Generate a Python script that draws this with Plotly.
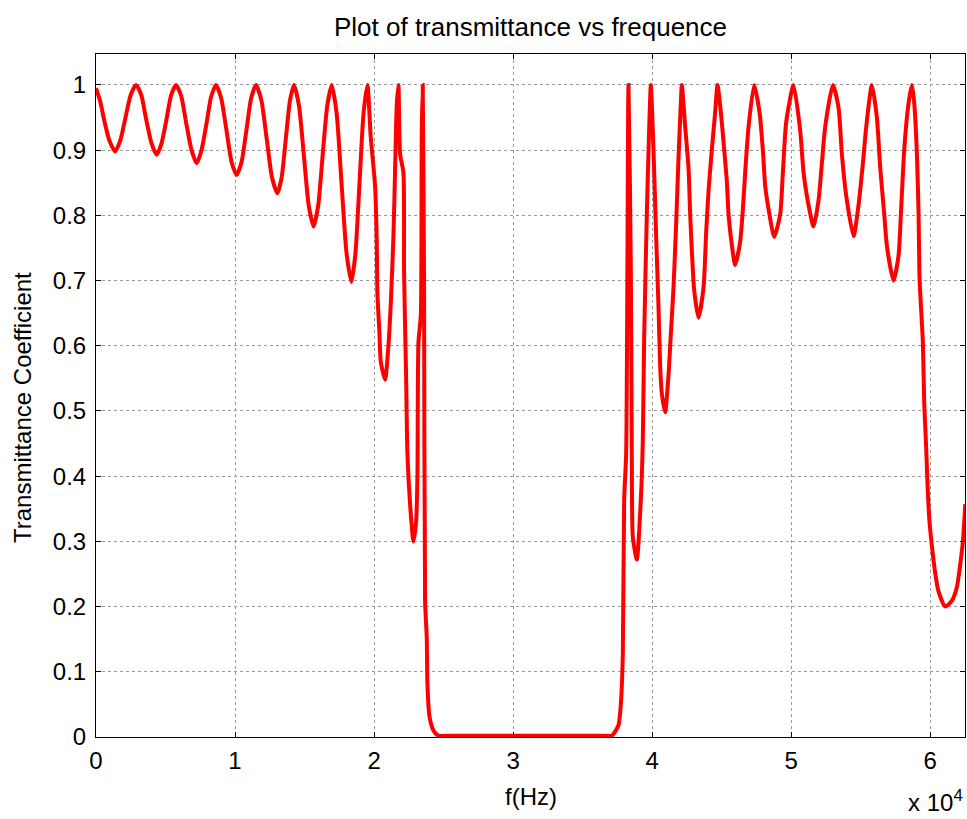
import plotly.graph_objects as go

# Frequency (Hz) and transmittance values
freq = [
    0, 300, 650, 960, 1367, 1750, 2120, 2500, 2878, 3250, 3620, 4000, 4365,
    4710, 5060, 5400, 5755, 6130, 6500, 6870, 7242, 7590, 7940, 8280, 8633,
    9000, 9380, 9750, 10120, 10470, 10820, 11160, 11511, 11900, 12280, 12660,
    13046, 13350, 13650, 13950, 14245, 14600, 14950, 15300, 15650, 15980,
    16300, 16630, 16954, 17310, 17660, 18020, 18370, 18660, 18950, 19240,
    19520, 19760, 20072, 20192, 20240, 20384, 20480, 20791, 21031, 21199,
    21390, 21511, 21631, 21750, 21871, 22110, 22158, 22302, 22397, 22590,
    22830, 23022, 23118, 23189, 23360, 23430, 23500, 23597, 23669, 23789,
    23837, 23981, 24268, 24628, 25500, 27000, 29000, 31000, 33000, 35000,
    36500, 37098, 37578, 37746, 37890, 37986,
    38130, 38297, 38465, 38537, 38609, 38897, 39185, 39329, 39424, 39616,
    39808, 39904, 40096, 40288, 40456, 40576, 40695, 40935, 41175, 41343,
    41534, 41727, 41894, 42062, 42134, 42374, 42614, 42734, 42854, 43022,
    43333, 43693, 43885, 44053, 44293, 44532, 44700, 44940, 45180, 45371,
    45491, 45659, 45971, 46331, 46523, 46691, 46931, 47338, 47722, 47962,
    48129, 48369, 48777, 49209, 49401, 49640, 50165, 50647, 50887, 51127,
    51607, 51966, 52206, 52446, 53000, 53405, 53645, 53957, 54484, 54844,
    55156, 55396, 55803, 56163, 56403, 56691, 56882, 57362, 57722, 57890,
    58129, 58441, 58681, 58849, 59041, 59161, 59233, 59472, 59568, 59712,
    59808, 59952, 60120, 60360, 60600, 61079, 61559, 61918, 62158, 62350,
    62518,
]
trans = [
    0.995, 0.975, 0.94, 0.915, 0.898, 0.915, 0.95, 0.985, 1.0, 0.985, 0.946,
    0.91, 0.893, 0.91, 0.946, 0.984, 1.0, 0.983, 0.94, 0.9, 0.88, 0.9, 0.94,
    0.982, 1.0, 0.98, 0.931, 0.882, 0.862, 0.882, 0.931, 0.98, 1.0, 0.976,
    0.917, 0.858, 0.834, 0.858, 0.917, 0.976, 1.0, 0.968, 0.892, 0.815,
    0.783, 0.815, 0.892, 0.968, 1.0, 0.956, 0.849, 0.742, 0.698, 0.742,
    0.849, 0.956, 1.0, 0.92, 0.845, 0.76, 0.68, 0.62, 0.576, 0.548, 0.60,
    0.664, 0.767, 0.87, 0.97, 1.0, 0.894, 0.866, 0.71, 0.555, 0.435, 0.357,
    0.30, 0.33, 0.40, 0.604, 0.647, 0.93, 1.0, 0.68, 0.208, 0.152, 0.081,
    0.032, 0.01, 0.002, 0.002, 0.002, 0.002, 0.002, 0.002, 0.002,
    0.002, 0.002, 0.018, 0.05, 0.127, 0.364, 0.435, 1.0,
    0.717, 0.435, 0.307, 0.272, 0.364, 0.456, 0.611, 0.802, 0.95, 1.0, 0.90,
    0.767, 0.66, 0.569, 0.527, 0.498, 0.555, 0.618, 0.689, 0.788, 0.887,
    0.972, 1.0, 0.936, 0.873, 0.802, 0.746, 0.685, 0.643, 0.689, 0.774,
    0.837, 0.901, 0.958, 1.0, 0.958, 0.901, 0.852, 0.802, 0.767, 0.724,
    0.76, 0.81, 0.866, 0.936, 1.0, 0.958, 0.90, 0.845, 0.81, 0.767, 0.802,
    0.866, 0.943, 1.0, 0.93, 0.866, 0.83, 0.783, 0.823, 0.88, 0.936, 1.0,
    0.965, 0.894, 0.83, 0.768, 0.816, 0.88, 0.936, 1.0, 0.95, 0.873, 0.802,
    0.753, 0.70, 0.739, 0.802, 0.901, 0.972, 1.0, 0.972, 0.894, 0.802, 0.703,
    0.604, 0.512, 0.442, 0.385, 0.329, 0.293, 0.251, 0.223, 0.20, 0.209,
    0.23, 0.265, 0.30, 0.357,
]

x_tickvals = [0, 10000, 20000, 30000, 40000, 50000, 60000]
x_ticktext = ["0", "1", "2", "3", "4", "5", "6"]
y_tickvals = [0, 0.1, 0.2, 0.3, 0.4, 0.5, 0.6, 0.7, 0.8, 0.9, 1.0]
y_ticktext = ["0", "0.1", "0.2", "0.3", "0.4", "0.5", "0.6", "0.7", "0.8", "0.9", "1"]

FONT = "Arial, Liberation Sans, sans-serif"
FS = 24
W, H = 967, 819

fig = go.Figure()
fig.add_trace(go.Scatter(
    x=freq, y=trans, mode="lines",
    line=dict(color="#ff0000", width=4, shape="spline", smoothing=0.6),
    showlegend=False, hoverinfo="skip",
))

axis_common = dict(
    showline=True, linecolor="black", linewidth=1, mirror="ticks",
    ticks="inside", ticklen=5, tickcolor="black", tickwidth=1,
    showgrid=True, gridcolor="#9a9a9a", griddash="dot", gridwidth=1,
    zeroline=False, tickfont=dict(family=FONT, size=FS, color="black"),
)

fig.update_layout(
    width=W, height=H,
    margin=dict(l=96, r=2, t=54, b=82),
    paper_bgcolor="white", plot_bgcolor="white",
    title=dict(text="Plot of transmittance vs frequence", x=0.5, xref="paper",
               xanchor="center", y=1 - 27 / H, yanchor="middle",
               font=dict(family=FONT, size=26, color="black")),
    xaxis=dict(range=[0, 62500], tickvals=x_tickvals, ticktext=x_ticktext,
               ticklabelstandoff=2, **axis_common),
    yaxis=dict(range=[0, 1.0475], tickvals=y_tickvals, ticktext=y_ticktext,
               ticklabelstandoff=4, **axis_common),
    annotations=[
        dict(text="f(Hz)", xref="paper", yref="paper", x=0.5, y=-(797 - 737) / 683,
             xanchor="center", yanchor="middle", showarrow=False,
             font=dict(family=FONT, size=FS, color="black")),
        dict(text="Transmittance Coefficient", xref="paper", yref="paper",
             x=-(96 - 22) / 869, y=(737 - 408) / 683, textangle=-90,
             xanchor="center", yanchor="middle", showarrow=False,
             font=dict(family=FONT, size=FS, color="black")),
        dict(text="x 10<sup>4</sup>", xref="paper", yref="paper",
             x=1.0, y=-(818 - 737) / 683, xanchor="right", yanchor="bottom",
             showarrow=False, font=dict(family=FONT, size=FS, color="black")),
    ],
)

fig.write_html("out.html")
